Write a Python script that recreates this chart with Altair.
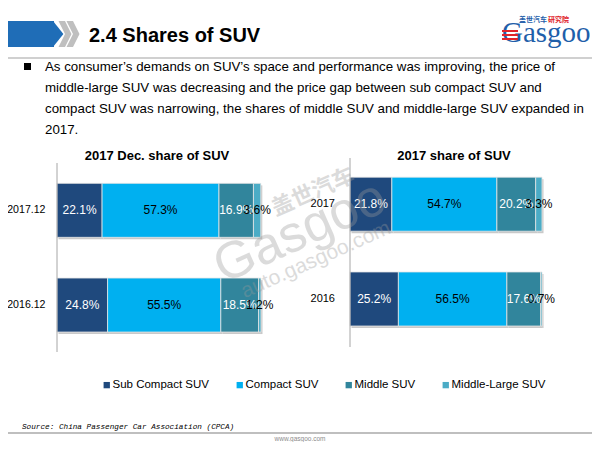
import altair as alt
import pandas as pd

# ---------------- data ----------------
categories = ["Sub Compact SUV", "Compact SUV", "Middle SUV", "Middle-Large SUV"]
colors = ["#1F497D", "#00B0F0", "#31859C", "#4BACC6"]
label_colors = ["white", "black", "white", "black"]

left_title = "2017 Dec. share of SUV"
left_rows = ["2017.12", "2016.12"]
left_2017_12 = [22.1, 57.3, 16.9, 3.6]
left_2016_12 = [24.8, 55.5, 18.5, 1.2]

right_title = "2017 share of SUV"
right_rows = ["2017", "2016"]
right_2017 = [21.8, 54.7, 20.2, 3.3]
right_2016 = [25.2, 56.5, 17.6, 0.7]

page_title = "2.4 Shares of SUV"
bullet_lines = [
    "As consumer\u2019s demands  on SUV\u2019s space and performance was improving,  the price of",
    "middle-large  SUV  was decreasing and the price gap between sub compact SUV  and",
    "compact SUV  was narrowing,  the shares of middle  SUV  and  middle-large  SUV  expanded  in",
    "2017.",
]
source_text = "Source: China Passenger Car Association (CPCA)"
footer_url = "www.gasgoo.com"
logo_text = "Gasgoo"
logo_cn_blue = "\u76d6\u4e16\u6c7d\u8f66"
logo_cn_red = "\u7814\u7a76\u9662"
wm_cn = "\u76d6\u4e16\u6c7d\u8f66"
wm_big = "Gasgoo"
wm_url = "auto.gasgoo.com"

FONT = "Liberation Sans"
W, H = 584, 434


def panel_df(rows, series):
    recs = []
    for r, vals in zip(rows, series):
        for i, (c, v) in enumerate(zip(categories, vals)):
            recs.append(dict(row=r, cat=c, idx=i, value=v,
                             label=f"{v:.1f}%", tcolor=label_colors[i]))
    return pd.DataFrame(recs)


one = pd.DataFrame({"k": [0]})

color_enc = alt.Color(
    "cat:N",
    sort=categories,
    scale=alt.Scale(domain=categories, range=colors),
    legend=alt.Legend(
        orient="none", legendX=93, legendY=371, direction="horizontal",
        title=None, symbolType="square", symbolSize=40, symbolStrokeWidth=0,
        labelFont=FONT, labelFontSize=11.5, labelColor="#000000",
        columnPadding=24, labelOffset=0, padding=0,
    ),
)


def panel(rows, series, xrange, yrange, rule_y, title, title_x, label_x, label_size):
    df = panel_df(rows, series)
    xs = alt.Scale(domain=[0, 100], range=xrange, nice=False, zero=False)
    ys = alt.Scale(domain=rows, range=yrange, paddingInner=0.43, paddingOuter=0.215)
    base = alt.Chart(df)
    shadow = base.mark_bar(color="#c9c9c9", xOffset=1.5, yOffset=2).encode(
        x=alt.X("value:Q", stack="zero", scale=xs, axis=None),
        y=alt.Y("row:N", sort=rows, scale=ys, axis=None),
        detail="cat:N",
        order=alt.Order("idx:Q"),
    )
    bars = base.mark_bar(stroke="#e6e6e6", strokeWidth=0.8).encode(
        x=alt.X("value:Q", stack="zero", scale=xs, axis=None),
        y=alt.Y("row:N", sort=rows, scale=ys, axis=None),
        color=color_enc,
        order=alt.Order("idx:Q"),
    )
    labels = base.transform_window(
        cum="sum(value)", groupby=["row"], sort=[alt.SortField("idx")], frame=[None, 0]
    ).transform_calculate(mid="datum.cum - datum.value / 2").mark_text(
        font=FONT, fontSize=12, baseline="middle"
    ).encode(
        x=alt.X("mid:Q", scale=xs, axis=None),
        y=alt.Y("row:N", sort=rows, scale=ys, axis=None),
        text="label:N",
        color=alt.Color("tcolor:N", scale=None),
    )
    axis_rule = alt.Chart(pd.DataFrame({"v": [0]})).mark_rule(
        color="#a6a6a6", strokeWidth=1
    ).encode(
        x=alt.X("v:Q", scale=xs, axis=None),
        y=alt.value(rule_y[0]), y2=alt.value(rule_y[1]),
    )
    row_labels = alt.Chart(pd.DataFrame({"row": rows})).mark_text(
        font=FONT, fontSize=label_size, align="right", baseline="middle", color="#000000"
    ).encode(
        x=alt.value(label_x),
        y=alt.Y("row:N", sort=rows, scale=ys, axis=None),
        text="row:N",
    )
    ttl = alt.Chart(one).mark_text(
        font=FONT, fontSize=13, fontWeight="bold", align="center", baseline="middle",
        color="#000000",
    ).encode(x=alt.value(title_x), y=alt.value(147.5), text=alt.value(title))
    return [shadow, bars, labels, axis_rule, row_labels, ttl]


left_layers = panel(left_rows, [left_2017_12, left_2016_12], [49, 253], [155, 344.4],
                    (155, 344), left_title, 149, 37.5, 10.6)
right_layers = panel(right_rows, [right_2017, right_2016], [342, 534], [148.8, 338.4],
                     (150, 339), right_title, 446, 327, 11)

# ---------------- page decorations ----------------
band = alt.Chart(one).mark_rect(color="#1F6DB7").encode(
    x=alt.value(0), x2=alt.value(46), y=alt.value(13), y2=alt.value(39))
band_tip = alt.Chart(one).mark_point(
    shape="M-1,-1L0,-1L0.8,0L0,1L-1,1Z", filled=True, color="#1F6DB7", opacity=1, size=676,
    strokeWidth=0).encode(x=alt.value(45), y=alt.value(26))
chev_shape = "M-0.5,-1L0,-1L0.5,0L0,1L-0.5,1L0,0Z"
chev1 = alt.Chart(one).mark_point(
    shape=chev_shape, filled=True, color="#BFBFBF", opacity=1, size=676, strokeWidth=0
).encode(x=alt.value(57), y=alt.value(26))
chev2 = alt.Chart(one).mark_point(
    shape=chev_shape, filled=True, color="#BFBFBF", opacity=1, size=676, strokeWidth=0
).encode(x=alt.value(65), y=alt.value(26))
title_txt = alt.Chart(one).mark_text(
    font=FONT, fontSize=20, fontWeight="bold", align="left", baseline="middle",
    color="#000000").encode(x=alt.value(81), y=alt.value(28), text=alt.value(page_title))
head_line = alt.Chart(one).mark_rule(color="#D0D0D0", strokeWidth=2).encode(
    x=alt.value(0), x2=alt.value(W), y=alt.value(50))

logo = alt.Chart(one).mark_text(
    font="Liberation Serif", fontSize=29, align="left", baseline="alphabetic",
    color="#1F5FAA").encode(x=alt.value(494), y=alt.value(34), text=alt.value(logo_text))
logo_stripes = [
    alt.Chart(one).mark_rect(color="#E0242B").encode(
        x=alt.value(494), x2=alt.value(510), y=alt.value(yy), y2=alt.value(yy + 2))
    for yy in (22, 26, 30)
]
logo_cn1 = alt.Chart(one).mark_text(
    font="Noto Sans CJK SC", fontSize=7, fontWeight="bold", align="left", baseline="middle",
    color="#1F5FAA").encode(x=alt.value(511), y=alt.value(11.5), text=alt.value(logo_cn_blue))
logo_cn2 = alt.Chart(one).mark_text(
    font="Noto Sans CJK SC", fontSize=7, fontWeight="bold", align="left", baseline="middle",
    color="#E0242B").encode(x=alt.value(540), y=alt.value(11.5), text=alt.value(logo_cn_red))

bullet_sq = alt.Chart(one).mark_rect(color="#000000").encode(
    x=alt.value(16), x2=alt.value(23), y=alt.value(55), y2=alt.value(62))
bullet_txt = alt.Chart(one).mark_text(
    font=FONT, fontSize=13.3, align="left", baseline="middle", lineHeight=21,
    color="#000000").encode(x=alt.value(37), y=alt.value(59), text=alt.value(bullet_lines))

wm1 = alt.Chart(one).mark_text(
    font="Noto Sans CJK SC", fontSize=22, fontWeight="bold", angle=336, align="center",
    baseline="middle", color="#9a9a9a", opacity=0.35).encode(
    x=alt.value(305), y=alt.value(184), text=alt.value(wm_cn))
wm2 = alt.Chart(one).mark_text(
    font=FONT, fontSize=52, angle=336, align="center", baseline="middle",
    color="#9a9a9a", opacity=0.35).encode(
    x=alt.value(292), y=alt.value(224), text=alt.value(wm_big))
wm3 = alt.Chart(one).mark_text(
    font=FONT, fontSize=21, angle=336, align="center", baseline="middle",
    color="#9a9a9a", opacity=0.35).encode(
    x=alt.value(308), y=alt.value(252), text=alt.value(wm_url))

src = alt.Chart(one).mark_text(
    font="Liberation Mono", fontSize=7.7, fontStyle="italic", align="left", baseline="middle",
    color="#000000").encode(x=alt.value(14), y=alt.value(419), text=alt.value(source_text))
foot_line = alt.Chart(one).mark_rule(color="#BFBFBF", strokeWidth=2).encode(
    x=alt.value(0), x2=alt.value(W), y=alt.value(425))
foot = alt.Chart(one).mark_text(
    font=FONT, fontSize=6.5, align="center", baseline="middle", color="#8c8c8c").encode(
    x=alt.value(292), y=alt.value(431), text=alt.value(footer_url))

layers = [band, band_tip, chev1, chev2, title_txt, head_line, logo] + logo_stripes + [
    logo_cn1, logo_cn2, bullet_sq, bullet_txt] + left_layers + right_layers + [
    wm1, wm2, wm3, src, foot_line, foot]

chart = alt.layer(*layers).resolve_scale(
    x="independent", y="independent", color="shared"
).properties(
    width=W, height=H, padding=0, autosize=alt.AutoSizeParams(type="none")
).configure_view(stroke=None)

chart.save("out.html", embed_options={"renderer": "svg", "actions": False})
